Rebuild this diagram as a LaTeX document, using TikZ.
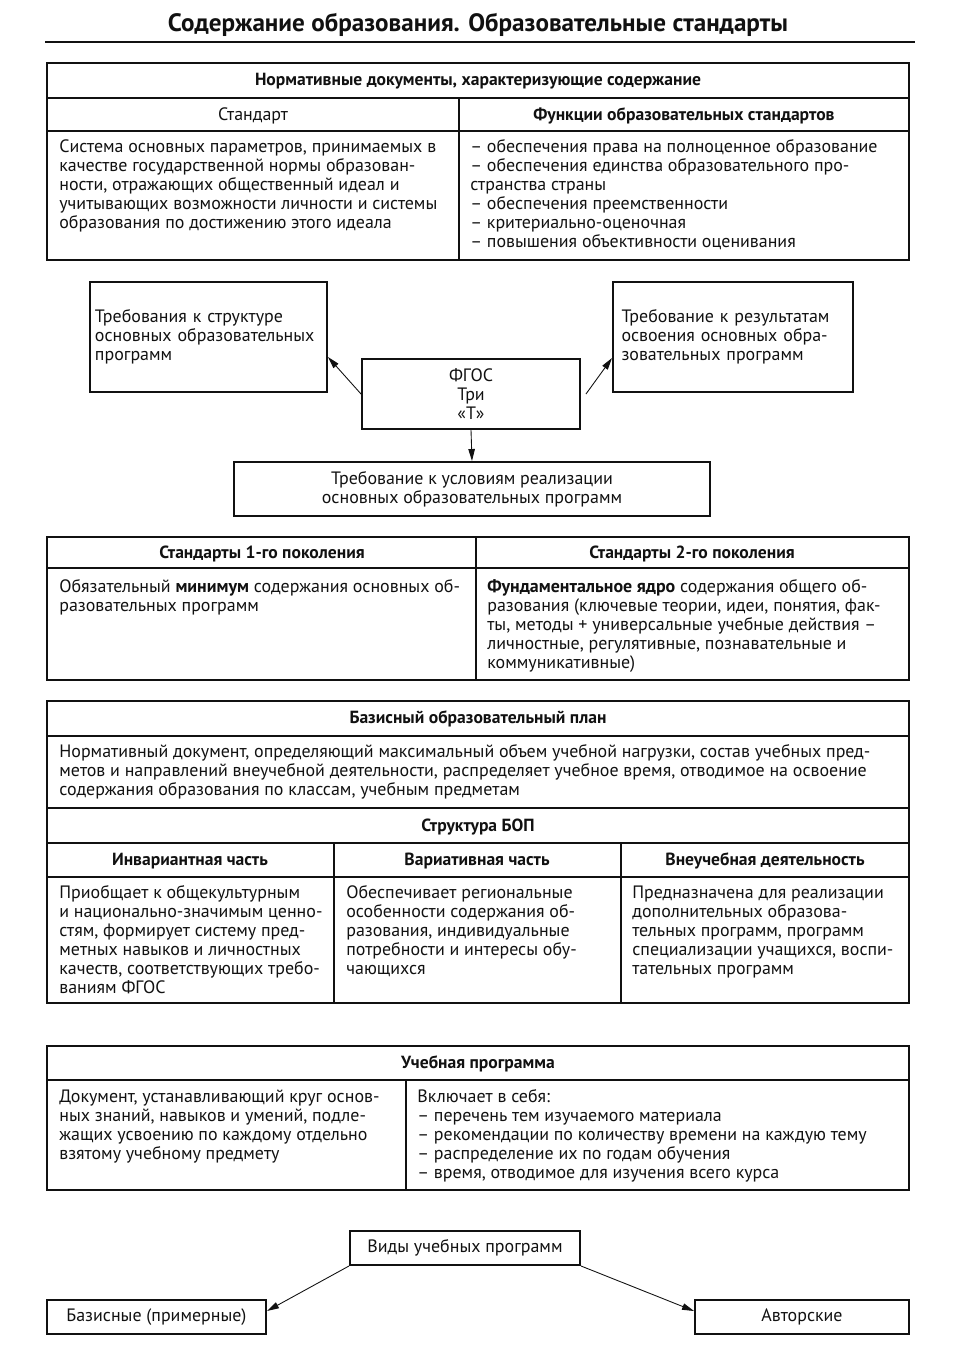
\documentclass[tikz,border=0pt]{standalone}
\usepackage{fontspec}
\setmainfont{PT Sans}
\usetikzlibrary{arrows.meta,positioning}
\definecolor{pgInk}{HTML}{111111}
\tikzset{
  frame/.style    ={draw=pgInk,line width=1.1pt},
  rule/.style     ={draw=pgInk,line width=0.8pt},
  titlerule/.style={draw=pgInk,line width=1.3pt},
  titletxt/.style ={font=\fontsize{14.3}{16}\selectfont\bfseries,text=pgInk,inner sep=0pt,anchor=base},
  head/.style     ={font=\bfseries,text=pgInk,inner sep=0pt,anchor=base},
  plainhead/.style={text=pgInk,inner sep=0pt,anchor=base},
  % multi-line text: placed at the baseline of its last line
  body/.style     ={text=pgInk,inner sep=0pt,anchor=base west,align=left},
  boxnode/.style  ={draw=pgInk,line width=1.1pt,inner sep=0pt,text=pgInk},
  arr/.style      ={-{Triangle[length=2.4mm,width=1.3mm]},pgInk,line width=0.5pt},
}

\begin{document}
\begin{tikzpicture}[x=0.2mm,y=-0.2mm,font=\fontsize{10.2}{10.77}\selectfont]
\useasboundingbox (0,0) rectangle (957,1367);

% title
\node[titletxt] (title) at (478,31) {Содержание образования. Образовательные стандарты};
\draw[titlerule] (45,42) -- (915,42);

% normative documents
\draw[frame] (47,63) rectangle (909,260);
\draw[rule] (47,98) -- (909,98) (47,131) -- (909,131) (459,98) -- (459,260);
\node[head] (normH) at (478,85) {Нормативные документы, характеризующие содержание};
\node[plainhead] (stdH) at (253,120) {Стандарт};
\node[head] (funcH) at (684,120) {Функции образовательных стандартов};
\node[body] (stdT) at (59,228)
  {Система основных параметров, принимаемых в\\
   качестве государственной нормы образован-\\
   ности, отражающих общественный идеал и\\
   учитывающих возможности личности и системы\\
   образования по достижению этого идеала};
\node[body] (funcT) at (470,247)
  {– обеспечения права на полноценное образование\\
   – обеспечения единства образовательного про-\\
   странства страны\\
   – обеспечения преемственности\\
   – критериально-оценочная\\
   – повышения объективности оценивания};

% FGOS and the three T
\node[boxnode,minimum width=47.4mm,minimum height=22mm,text width=45.4mm,align=left]
  (reqStruct) at (208.5,337)
  {Требования к структуре\\основных образовательных\\программ};
\node[boxnode,minimum width=48mm,minimum height=22mm,text width=44.6mm,align=left]
  (reqResult) at (733,337)
  {Требование к результатам\\освоения основных обра-\\зовательных программ};
\node[boxnode,minimum width=43.6mm,minimum height=14mm,align=center]
  (fgos) at (471,394) {ФГОС\\Три\\«Т»};
\node[boxnode,minimum width=95.2mm,minimum height=10.8mm,align=center]
  (reqCond) at (472,489)
  {Требование к условиям реализации\\основных образовательных программ};
\draw[arr] (fgos.west) -- ([yshift=-4mm]reqStruct.east);
\draw[arr] ([xshift=1mm]fgos.east) -- ([yshift=-4.2mm]reqResult.west);
\draw[arr] (fgos.south) -- (reqCond.north);

% generations
\draw[frame] (47,537) rectangle (909,680);
\draw[rule] (47,568) -- (909,568) (476,537) -- (476,680);
\node[head] (gen1H) at (262,558) {Стандарты 1-го поколения};
\node[head] (gen2H) at (692,558) {Стандарты 2-го поколения};
\node[body] (gen1T) at (59,611)
  {Обязательный \textbf{минимум} содержания основных об-\\
   разовательных программ};
\node[body] (gen2T) at (487,668)
  {\textbf{Фундаментальное ядро} содержания общего об-\\
   разования (ключевые теории, идеи, понятия, фак-\\
   ты, методы + универсальные учебные действия –\\
   личностные, регулятивные, познавательные и\\
   коммуникативные)};

% basic plan
\draw[frame] (47,701) rectangle (909,1003);
\draw[rule] (47,736) -- (909,736) (47,808) -- (909,808) (47,843) -- (909,843)
  (47,877) -- (909,877) (334,843) -- (334,1003) (621,843) -- (621,1003);
\node[head] (planH) at (478,723) {Базисный образовательный план};
\node[body] (planT) at (59,795)
  {Нормативный документ, определяющий максимальный объем учебной нагрузки, состав учебных пред-\\
   метов и направлений внеучебной деятельности, распределяет учебное время, отводимое на освоение\\
   содержания образования по классам, учебным предметам};
\node[head] (bopH) at (478,831) {Структура БОП};
\node[head] (invH) at (190,865) {Инвариантная часть};
\node[head] (varH) at (477,865) {Вариативная часть};
\node[head] (extH) at (765,865) {Внеучебная деятельность};
\node[body] (invT) at (59,993)
  {Приобщает к общекультурным\\
   и национально-значимым ценно-\\
   стям, формирует систему пред-\\
   метных навыков и личностных\\
   качеств, соответствующих требо-\\
   ваниям ФГОС};
\node[body] (varT) at (346,974)
  {Обеспечивает региональные\\
   особенности содержания об-\\
   разования, индивидуальные\\
   потребности и интересы обу-\\
   чающихся};
\node[body] (extT) at (632,974)
  {Предназначена для реализации\\
   дополнительных образова-\\
   тельных программ, программ\\
   специализации учащихся, воспи-\\
   тательных программ};

% study programme
\draw[frame] (47,1046) rectangle (909,1190);
\draw[rule] (47,1080) -- (909,1080) (406,1080) -- (406,1190);
\node[head] (progH) at (478,1068) {Учебная программа};
\node[body] (progT) at (59,1159)
  {Документ, устанавливающий круг основ-\\
   ных знаний, навыков и умений, подле-\\
   жащих усвоению по каждому отдельно\\
   взятому учебному предмету};
\node[body] (inclT) at (417,1178)
  {Включает в себя:\\
   – перечень тем изучаемого материала\\
   – рекомендации по количеству времени на каждую тему\\
   – распределение их по годам обучения\\
   – время, отводимое для изучения всего курса};

% kinds of programmes
\node[boxnode,minimum width=46mm,minimum height=6.8mm] (kinds) at (465,1248) {Виды учебных программ};
\node[boxnode,minimum width=43.8mm,minimum height=6.8mm] (basic) at (156.5,1317) {Базисные (примерные)};
\node[boxnode,minimum width=42.8mm,minimum height=6.8mm] (author) at (802,1317) {Авторские};
\draw[arr] (kinds.south west) -- ([yshift=1.2mm]basic.east);
\draw[arr] (kinds.south east) -- ([yshift=1.2mm]author.west);
\end{tikzpicture}
\end{document}
